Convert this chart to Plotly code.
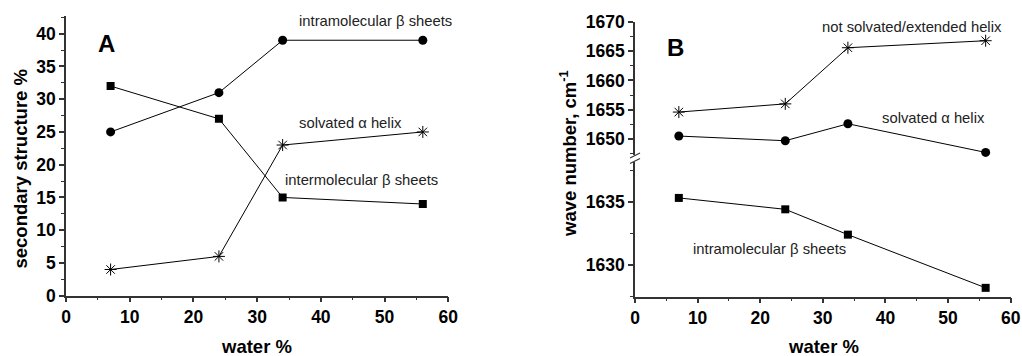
import plotly.graph_objects as go

W, H = 1022, 356

# ---- data ----
water = [7, 24, 34, 56]
# Panel A: secondary structure %
a_intra_beta = [25, 31, 39, 39]       # circles
a_inter_beta = [32, 27, 15, 14]       # squares
a_solv_helix = [4, 6, 23, 25]         # stars
# Panel B: wave number, cm-1
b_ext_helix = [1654.6, 1656.0, 1665.6, 1666.8]   # stars
b_solv_helix = [1650.5, 1649.7, 1652.6, 1647.7]  # circles
b_intra_beta = [1635.3, 1634.4, 1632.4, 1628.2]  # squares

FONT = "Liberation Sans, Arial, sans-serif"

def px(x):
    return x / W

def py(y):
    return 1 - y / H

fig = go.Figure()

line = dict(color="black", width=1)
circle = dict(symbol="circle", size=9, color="black")
square = dict(symbol="square", size=8, color="black")
star = dict(symbol="asterisk-open", size=10, color="black", line=dict(color="black", width=1))

# Panel A
fig.add_trace(go.Scatter(x=water, y=a_intra_beta, mode="lines+markers", line=line, marker=circle, xaxis="x", yaxis="y"))
fig.add_trace(go.Scatter(x=water, y=a_inter_beta, mode="lines+markers", line=line, marker=square, xaxis="x", yaxis="y"))
fig.add_trace(go.Scatter(x=water, y=a_solv_helix, mode="lines+markers", line=line, marker=star, xaxis="x", yaxis="y"))
# Panel B lower
fig.add_trace(go.Scatter(x=water, y=b_intra_beta, mode="lines+markers", line=line, marker=square, xaxis="x2", yaxis="y2", cliponaxis=False))
# Panel B upper
fig.add_trace(go.Scatter(x=water, y=b_ext_helix, mode="lines+markers", line=line, marker=star, xaxis="x3", yaxis="y3", cliponaxis=False))
fig.add_trace(go.Scatter(x=water, y=b_solv_helix, mode="lines+markers", line=line, marker=circle, xaxis="x3", yaxis="y3", cliponaxis=False))

AX_COL = "#333333"
tickfont = dict(family=FONT, size=17.5, color="black", weight="bold")
common = dict(showline=True, linecolor=AX_COL, linewidth=1.5, ticks="outside", ticklen=5,
              tickwidth=1.5, tickcolor=AX_COL, showgrid=False, zeroline=False,
              tickfont=tickfont, automargin=False)
minor = dict(ticklen=3, tickwidth=1.2, tickcolor=AX_COL, showgrid=False)

fig.update_layout(
    width=W, height=H,
    margin=dict(l=0, r=0, t=0, b=0, autoexpand=False),
    paper_bgcolor="white", plot_bgcolor="white",
    showlegend=False,
    xaxis=dict(domain=[px(66), px(448.3)], range=[0, 60], dtick=10, tick0=0,
               anchor="y", minor=dict(dtick=5, **minor), **common),
    yaxis=dict(domain=[py(295.7), py(16)], range=[0, 42.7], dtick=5, tick0=0,
               anchor="x", minor=dict(dtick=2.5, **minor), **common),
    xaxis2=dict(domain=[px(635), px(1010.7)], range=[0, 60], dtick=10, tick0=0,
                anchor="y2", minor=dict(dtick=5, **minor), **common),
    yaxis2=dict(domain=[py(296.7), py(161.7)], range=[1627.5, 1638.16], dtick=5, tick0=1630,
                anchor="x2", minor=dict(dtick=2.5, tick0=1627.5, **minor), **common),
    xaxis3=dict(domain=[px(635), px(1010.7)], range=[0, 60], matches="x2", anchor="y3",
                visible=False, automargin=False),
    yaxis3=dict(domain=[py(155), py(22)], range=[1647.26, 1670], dtick=5, tick0=1650,
                anchor="x3", minor=dict(dtick=2.5, **minor), **common),
)

ann = []
def text(x, y, t, size=14.8, bold=False, angle=0):
    ann.append(dict(x=px(x), y=py(y), xref="paper", yref="paper", text=t, showarrow=False,
                    xanchor="center", yanchor="middle", textangle=angle,
                    font=dict(family=FONT, size=size, color="black" if bold else "#222222",
                              weight="bold" if bold else "normal")))

# panel A labels
text(375.5, 21, "intramolecular β sheets")
text(350, 123, "solvated α helix")
text(361.5, 180, "intermolecular β sheets")
text(106.5, 43.5, "A", size=24, bold=True)
text(256.7, 346, "water %", size=18.5, bold=True)
text(19.5, 169, "secondary structure %", size=18.5, bold=True, angle=-90)
# panel B labels
text(912, 27, "not solvated/extended helix")
text(933.5, 118, "solvated α helix")
text(769, 249, "intramolecular β sheets")
text(675, 47.5, "B", size=24, bold=True)
text(823, 346, "water %", size=18.5, bold=True)
text(567.5, 153.5, "wave number, cm<sup>-1</sup>", size=18.5, bold=True, angle=-90)

fig.update_layout(annotations=ann)

# axis break marks
for yb in (155.5, 161):
    fig.add_shape(type="line", xref="paper", yref="paper",
                  x0=px(630), y0=py(yb + 2.5), x1=px(640), y1=py(yb - 2.5),
                  line=dict(color=AX_COL, width=1.2))

fig.write_html("out.html")
